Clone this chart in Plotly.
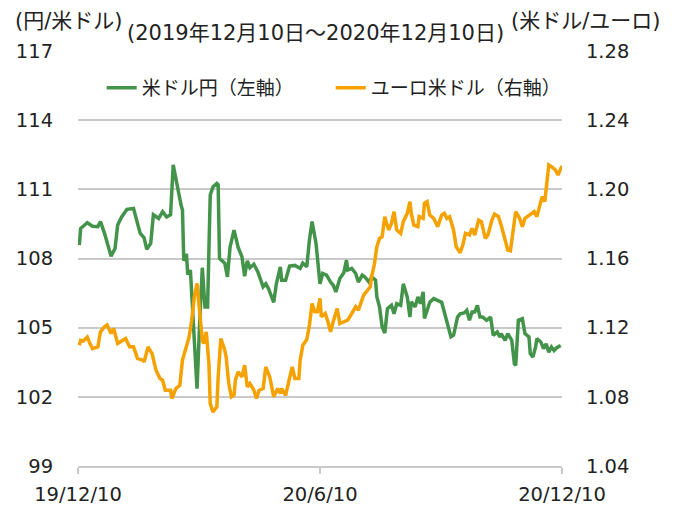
import plotly.graph_objects as go

# 米ドル円 (left axis)
usdjpy_dates = [
    "2019-12-11", "2019-12-12", "2019-12-17", "2019-12-21", "2019-12-25", "2019-12-27", "2019-12-30",
    "2020-01-01", "2020-01-04", "2020-01-07", "2020-01-09", "2020-01-12", "2020-01-16", "2020-01-21",
    "2020-01-24", "2020-01-26", "2020-01-29", "2020-01-31", "2020-02-03", "2020-02-05", "2020-02-09",
    "2020-02-12", "2020-02-15", "2020-02-18", "2020-02-20", "2020-02-23", "2020-02-26", "2020-02-27",
    "2020-02-28", "2020-03-01", "2020-03-02", "2020-03-04", "2020-03-05", "2020-03-06", "2020-03-09",
    "2020-03-11", "2020-03-13", "2020-03-15", "2020-03-17", "2020-03-18", "2020-03-19", "2020-03-21",
    "2020-03-24", "2020-03-25", "2020-03-26", "2020-03-30", "2020-04-01", "2020-04-03", "2020-04-06",
    "2020-04-09", "2020-04-12", "2020-04-14", "2020-04-16", "2020-04-18", "2020-04-21", "2020-04-24",
    "2020-04-28", "2020-04-30", "2020-05-02", "2020-05-06", "2020-05-08", "2020-05-11", "2020-05-12",
    "2020-05-15", "2020-05-18", "2020-05-22", "2020-05-26", "2020-05-28", "2020-05-31", "2020-06-02",
    "2020-06-04", "2020-06-07", "2020-06-09", "2020-06-10", "2020-06-12", "2020-06-15", "2020-06-18",
    "2020-06-20", "2020-06-22", "2020-06-25", "2020-06-28", "2020-06-30", "2020-07-01", "2020-07-04",
    "2020-07-07", "2020-07-09", "2020-07-12", "2020-07-14", "2020-07-17", "2020-07-19", "2020-07-22",
    "2020-07-23", "2020-07-25", "2020-07-27", "2020-07-29", "2020-07-31", "2020-08-03", "2020-08-05",
    "2020-08-07", "2020-08-10", "2020-08-12", "2020-08-15", "2020-08-17", "2020-08-18", "2020-08-21",
    "2020-08-23", "2020-08-25", "2020-08-27", "2020-08-28", "2020-08-30", "2020-09-01", "2020-09-04",
    "2020-09-07", "2020-09-10", "2020-09-12", "2020-09-15", "2020-09-17", "2020-09-19", "2020-09-22",
    "2020-09-24", "2020-09-27", "2020-09-29", "2020-10-01", "2020-10-03", "2020-10-05", "2020-10-07",
    "2020-10-09", "2020-10-11", "2020-10-14", "2020-10-17", "2020-10-19", "2020-10-22", "2020-10-24",
    "2020-10-25", "2020-10-28", "2020-10-30", "2020-11-02", "2020-11-04", "2020-11-05", "2020-11-07",
    "2020-11-10", "2020-11-12", "2020-11-15", "2020-11-16", "2020-11-18", "2020-11-20", "2020-11-21",
    "2020-11-24", "2020-11-26", "2020-11-28", "2020-11-30", "2020-12-02", "2020-12-04", "2020-12-06",
    "2020-12-09",
]
usdjpy = [
    108.58, 109.30, 109.55, 109.40, 109.38, 109.60, 109.10,
    108.65, 108.10, 108.43, 109.45, 109.80, 110.13, 110.17,
    109.60, 109.10, 108.90, 108.40, 108.65, 109.90, 109.74,
    110.03, 109.80, 109.90, 112.06, 111.10, 110.30, 110.10,
    107.90, 108.20, 107.30, 107.50, 106.50, 105.50, 102.35,
    105.20, 107.60, 105.90, 105.90, 108.40, 110.75, 111.10,
    111.26, 111.20, 108.00, 107.80, 107.20, 108.50, 109.23,
    108.50, 108.07, 107.23, 107.90, 107.60, 107.75, 107.42,
    106.77, 106.90, 106.70, 106.10, 106.90, 107.64, 107.06,
    107.06, 107.67, 107.70, 107.57, 107.80, 107.64, 108.80,
    109.60, 108.65, 107.64, 106.90, 107.35, 107.28, 106.98,
    106.84, 106.55, 107.13, 107.38, 107.93, 107.50, 107.57,
    107.35, 106.98, 107.28, 107.20, 106.98, 107.20, 107.06,
    106.33, 105.90, 105.03, 104.77, 105.83, 105.97, 105.60,
    106.04, 105.97, 106.90, 106.33, 105.46, 106.12, 105.90,
    106.33, 106.04, 106.55, 105.40, 105.75, 106.10, 106.26,
    106.19, 106.10, 105.68, 105.03, 104.60, 104.67, 105.46,
    105.60, 105.64, 105.75, 105.32, 105.68, 105.68, 105.97,
    105.46, 105.46, 105.32, 105.46, 104.67, 104.81, 104.60,
    104.74, 104.45, 104.74, 104.45, 103.43, 103.36, 105.32,
    105.39, 104.74, 104.60, 103.87, 103.72, 104.16, 104.52,
    104.38, 104.09, 104.30, 103.94, 104.16, 104.01, 104.13,
    104.23,
]

# ユーロ米ドル (right axis)
eurusd_dates = [
    "2019-12-11", "2019-12-12", "2019-12-14", "2019-12-17", "2019-12-19", "2019-12-21", "2019-12-25",
    "2019-12-27", "2019-12-30", "2020-01-01", "2020-01-04", "2020-01-06", "2020-01-09", "2020-01-11",
    "2020-01-15", "2020-01-18", "2020-01-21", "2020-01-24", "2020-01-28", "2020-01-29", "2020-02-01",
    "2020-02-04", "2020-02-07", "2020-02-10", "2020-02-12", "2020-02-14", "2020-02-18", "2020-02-19",
    "2020-02-22", "2020-02-25", "2020-02-27", "2020-03-02", "2020-03-03", "2020-03-05", "2020-03-07",
    "2020-03-09", "2020-03-11", "2020-03-13", "2020-03-14", "2020-03-16", "2020-03-18", "2020-03-19",
    "2020-03-21", "2020-03-24", "2020-03-25", "2020-03-27", "2020-03-30", "2020-03-31", "2020-04-02",
    "2020-04-04", "2020-04-06", "2020-04-07", "2020-04-09", "2020-04-12", "2020-04-14", "2020-04-16",
    "2020-04-18", "2020-04-21", "2020-04-23", "2020-04-25", "2020-04-28", "2020-04-30", "2020-05-03",
    "2020-05-06", "2020-05-09", "2020-05-11", "2020-05-12", "2020-05-15", "2020-05-17", "2020-05-20",
    "2020-05-22", "2020-05-25", "2020-05-26", "2020-05-28", "2020-05-31", "2020-06-02", "2020-06-04",
    "2020-06-06", "2020-06-08", "2020-06-10", "2020-06-11", "2020-06-14", "2020-06-16", "2020-06-18",
    "2020-06-20", "2020-06-23", "2020-06-25", "2020-06-28", "2020-07-01", "2020-07-04", "2020-07-07",
    "2020-07-09", "2020-07-11", "2020-07-13", "2020-07-15", "2020-07-18", "2020-07-19", "2020-07-21",
    "2020-07-23", "2020-07-25", "2020-07-27", "2020-07-29", "2020-07-30", "2020-08-01", "2020-08-03",
    "2020-08-05", "2020-08-07", "2020-08-10", "2020-08-12", "2020-08-15", "2020-08-17", "2020-08-18",
    "2020-08-20", "2020-08-23", "2020-08-24", "2020-08-27", "2020-08-28", "2020-08-30", "2020-09-01",
    "2020-09-04", "2020-09-07", "2020-09-10", "2020-09-12", "2020-09-14", "2020-09-16", "2020-09-19",
    "2020-09-21", "2020-09-24", "2020-09-26", "2020-09-28", "2020-10-01", "2020-10-03", "2020-10-05",
    "2020-10-08", "2020-10-10", "2020-10-13", "2020-10-15", "2020-10-18", "2020-10-20", "2020-10-23",
    "2020-10-25", "2020-10-28", "2020-10-30", "2020-11-01", "2020-11-03", "2020-11-05", "2020-11-08",
    "2020-11-10", "2020-11-12", "2020-11-16", "2020-11-19", "2020-11-21", "2020-11-23", "2020-11-25",
    "2020-11-27", "2020-11-29", "2020-11-30", "2020-12-02", "2020-12-05", "2020-12-07", "2020-12-10",
]
eurusd = [
    1.1098, 1.1127, 1.1123, 1.1146, 1.1108, 1.1079, 1.1089,
    1.1176, 1.1205, 1.1215, 1.1166, 1.1195, 1.1108, 1.1118,
    1.1137, 1.1089, 1.1089, 1.1021, 1.1012, 1.1002, 1.1089,
    1.1050, 1.0954, 1.0906, 1.0896, 1.0838, 1.0838, 1.0790,
    1.0848, 1.0867, 1.1012, 1.1118, 1.1146, 1.1243, 1.1378,
    1.1456, 1.1263, 1.1128, 1.1108, 1.1176, 1.0992, 1.0761,
    1.0713, 1.0742, 1.0915, 1.1137, 1.1070, 1.1031, 1.0877,
    1.0800, 1.0810, 1.0896, 1.0944, 1.0915, 1.0983, 1.0858,
    1.0877, 1.0838, 1.0790, 1.0838, 1.0848, 1.0973, 1.0915,
    1.0800, 1.0848, 1.0819, 1.0848, 1.0809, 1.0877, 1.0973,
    1.0906, 1.0906, 1.1012, 1.1099, 1.1131, 1.1214, 1.1340,
    1.1292, 1.1292, 1.1369, 1.1263, 1.1282, 1.1234, 1.1176,
    1.1234, 1.1311, 1.1224, 1.1234, 1.1243, 1.1282, 1.1321,
    1.1301, 1.1340, 1.1388, 1.1407, 1.1436, 1.1494, 1.1562,
    1.1668, 1.1716, 1.1726, 1.1842, 1.1813, 1.1765, 1.1803,
    1.1871, 1.1765, 1.1745, 1.1813, 1.1861, 1.1929, 1.1861,
    1.1793, 1.1784, 1.1842, 1.1832, 1.1919, 1.1929, 1.1851,
    1.1832, 1.1784, 1.1851, 1.1861, 1.1832, 1.1842, 1.1765,
    1.1668, 1.1633, 1.1678, 1.1745, 1.1736, 1.1774, 1.1736,
    1.1822, 1.1813, 1.1716, 1.1736, 1.1822, 1.1857, 1.1842,
    1.1793, 1.1716, 1.1649, 1.1645, 1.1765, 1.1871, 1.1832,
    1.1784, 1.1832, 1.1851, 1.1871, 1.1842, 1.1909, 1.1958,
    1.1929, 1.2073, 1.2141, 1.2131, 1.2112, 1.2083, 1.2135,
]

x_ticks = ["2019-12-10", "2020-06-10", "2020-12-10"]
x_ticktext = ["19/12/10", "20/6/10", "20/12/10"]

FONT = "DejaVu Sans, Noto Sans CJK JP, sans-serif"
GREEN = "#43944a"
ORANGE = "#f5a200"
GRID = "#c9c9c9"
CLEAR = "rgba(0,0,0,0)"

fig = go.Figure()
fig.add_trace(go.Scatter(x=usdjpy_dates, y=usdjpy, mode="lines", name="米ドル円（左軸）",
                         line=dict(color=GREEN, width=3.5)))
fig.add_trace(go.Scatter(x=eurusd_dates, y=eurusd, mode="lines", name="ユーロ米ドル（右軸）",
                         line=dict(color=ORANGE, width=3.5), yaxis="y2"))

# page body has an 8px margin, so the figure is a bit smaller than the window
fig.update_layout(
    width=668, height=501,
    margin=dict(l=70, r=114, t=43, b=43),
    paper_bgcolor="white", plot_bgcolor="white",
    font=dict(family=FONT, size=19, color="#222222"),
    showlegend=True,
    legend=dict(orientation="h", x=0.049, y=0.957, xanchor="left", yanchor="top",
                bgcolor=CLEAR, font=dict(size=19), entrywidth=184,
                tracegroupgap=0),
    xaxis=dict(type="date", range=["2019-12-10", "2020-12-10"],
               tickvals=x_ticks, ticktext=x_ticktext, showgrid=False,
               showline=True, linecolor=GRID, linewidth=1.5,
               ticks="outside", ticklen=6, tickcolor=GRID, tickwidth=1.5,
               ticklabelstandoff=4, tickfont=dict(size=19.5), zeroline=False,
               automargin=False),
    yaxis=dict(range=[99, 117], dtick=3, tick0=99, showgrid=True, gridcolor=GRID,
               gridwidth=1.5, zeroline=False, ticks="outside", ticklen=20,
               tickcolor=CLEAR, tickfont=dict(size=19.5), automargin=False),
    yaxis2=dict(range=[1.04, 1.28], dtick=0.04, tick0=1.04, tickformat=".2f",
                overlaying="y", side="right", showgrid=False, zeroline=False,
                ticks="outside", ticklen=19, tickcolor=CLEAR,
                tickfont=dict(size=19.5), automargin=False),
)

fig.add_annotation(text="(円/米ドル)", xref="paper", yref="paper", x=0, y=1,
                   xshift=-65, yshift=30, xanchor="left", yanchor="middle",
                   showarrow=False, font=dict(size=21))
fig.add_annotation(text="(2019年12月10日～2020年12月10日)", xref="paper", yref="paper",
                   x=0, y=1, xshift=47, yshift=18, xanchor="left", yanchor="middle",
                   showarrow=False, font=dict(size=21))
fig.add_annotation(text="(米ドル/ユーロ)", xref="paper", yref="paper", x=1, y=1,
                   xshift=100, yshift=30, xanchor="right", yanchor="middle",
                   showarrow=False, font=dict(size=21))

fig.write_html("out.html")
